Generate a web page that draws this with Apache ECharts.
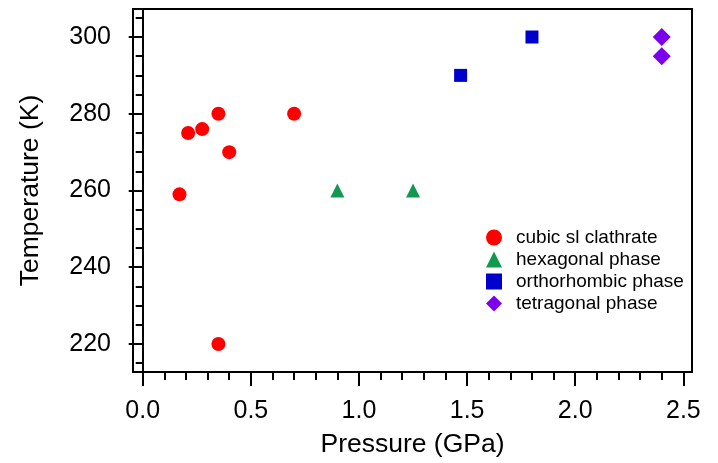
<!DOCTYPE html>
<html>
<head>
<meta charset="utf-8">
<script src="https://cdn.jsdelivr.net/npm/echarts@6/dist/echarts.min.js"></script>
<style>html,body{margin:0;padding:0;background:#fff}#c{width:718px;height:463px}</style>
</head>
<body>
<div id="c"></div>
<script>
var cubicP = [0.17, 0.21, 0.275, 0.35, 0.40, 0.35, 0.70];
var cubicT = [259, 275, 276, 280, 270, 220, 280];
var hexP = [0.90, 1.25];
var hexT = [260, 260];
var orthoP = [1.47, 1.80];
var orthoT = [290, 300];
var tetraP = [2.40, 2.40];
var tetraT = [300, 295];
var seriesNames = ['cubic sl clathrate', 'hexagonal phase', 'orthorhombic phase', 'tetragonal phase'];
var xMajor = [0, 0.5, 1.0, 1.5, 2.0, 2.5];
var xMinor = [0, 0.1, 0.2, 0.3, 0.4, 0.5, 0.6, 0.7, 0.8, 0.9, 1.0, 1.1, 1.2, 1.3, 1.4, 1.5, 1.6, 1.7, 1.8, 1.9, 2.0, 2.1, 2.2, 2.3, 2.4, 2.5];
var yMajor = [220, 240, 260, 280, 300];
var yMinor = [215, 220, 225, 230, 235, 240, 245, 250, 255, 260, 265, 270, 275, 280, 285, 290, 295, 300, 305];

function pairs(a, b) { return a.map(function (v, i) { return [v, b[i]]; }); }

var FONT = 'Liberation Sans, Arial, sans-serif';
var xmin = -0.045, xmax = 2.54, ymin = 212.7, ymax = 307.3;

var chart = echarts.init(document.getElementById('c'));
chart.setOption({
  animation: false,
  backgroundColor: '#fff',
  grid: { left: 133, top: 9, width: 559, height: 365, show: true, borderColor: '#000', borderWidth: 2, backgroundColor: 'transparent' },
  legend: {
    orient: 'vertical', left: 481, top: 223,
    itemWidth: 16, itemHeight: 16, itemGap: 3,
    data: seriesNames,
    textStyle: { fontFamily: FONT, fontSize: 19, color: '#000', padding: [0, 0, 0, 9] }
  },
  xAxis: [{
    type: 'value', min: xmin, max: xmax,
    axisLine: { show: true, lineStyle: { color: '#000', width: 2 } },
    axisTick: { show: true, length: 14, lineStyle: { color: '#000', width: 2 }, customValues: xMajor },
    axisLabel: { customValues: xMajor, margin: 27, fontFamily: FONT, fontSize: 25, color: '#000',
      formatter: function (v) { return v.toFixed(1); } },
    splitLine: { show: false },
    name: 'Pressure (GPa)', nameLocation: 'middle', nameGap: 59,
    nameTextStyle: { fontFamily: FONT, fontSize: 26.5, color: '#000' }
  }, {
    type: 'value', min: xmin, max: xmax, position: 'bottom',
    axisLine: { show: false },
    axisTick: { show: true, length: 8, lineStyle: { color: '#000', width: 2 }, customValues: xMinor },
    axisLabel: { show: false }, splitLine: { show: false }
  }],
  yAxis: [{
    type: 'value', min: ymin, max: ymax,
    axisLine: { show: true, lineStyle: { color: '#000', width: 2 } },
    axisTick: { show: true, length: 14, lineStyle: { color: '#000', width: 2 }, customValues: yMajor },
    axisLabel: { customValues: yMajor, margin: 22, fontFamily: FONT, fontSize: 25, color: '#000' },
    splitLine: { show: false },
    name: 'Temperature (K)', nameLocation: 'middle', nameGap: 89,
    nameTextStyle: { fontFamily: FONT, fontSize: 26.5, color: '#000' }
  }, {
    type: 'value', min: ymin, max: ymax, position: 'left',
    axisLine: { show: false },
    axisTick: { show: true, length: 7, lineStyle: { color: '#000', width: 2 }, customValues: yMinor },
    axisLabel: { show: false }, splitLine: { show: false }
  }],
  series: [
    { name: seriesNames[0], type: 'scatter', symbol: 'circle', symbolSize: 14, itemStyle: { color: '#ff0000', opacity: 1 }, data: pairs(cubicP, cubicT) },
    { name: seriesNames[1], type: 'scatter', symbol: 'triangle', symbolSize: 14, itemStyle: { color: '#109a50', opacity: 1 }, data: pairs(hexP, hexT) },
    { name: seriesNames[2], type: 'scatter', symbol: 'rect', symbolSize: 13, itemStyle: { color: '#0000cc', opacity: 1 }, data: pairs(orthoP, orthoT) },
    { name: seriesNames[3], type: 'scatter', symbol: 'diamond', symbolSize: 18, itemStyle: { color: '#7a00ee', opacity: 1 }, data: pairs(tetraP, tetraT) }
  ]
});
</script>
</body>
</html>
